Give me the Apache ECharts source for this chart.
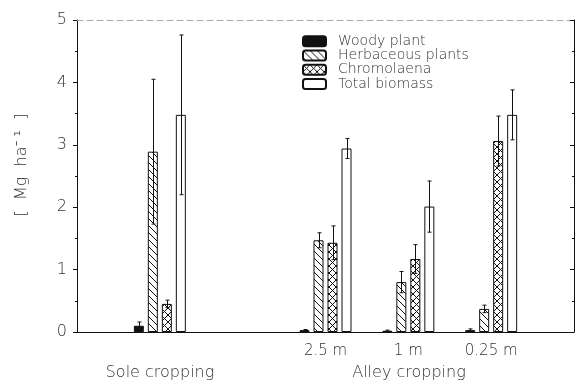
<!DOCTYPE html>
<html><head><meta charset="utf-8">
<script src="https://cdn.jsdelivr.net/npm/echarts@6/dist/echarts.min.js"></script>
<style>html,body{margin:0;padding:0;background:#fff}#c{width:577px;height:381px}</style>
</head><body><div id="c"></div>
<script>
// group positions on the x value axis and their tick labels
const groupPos = [1, 3, 4, 5];
const tickLabels = { 3: '2.5 m', 4: '1 m', 5: '0.25 m' };
const seriesNames = ['Woody plant', 'Herbaceous plants', 'Chromolaena', 'Total biomass'];
const woody = [0.10, 0.03, 0.02, 0.03];
const herbaceous = [2.89, 1.47, 0.80, 0.37];
const chromolaena = [0.45, 1.43, 1.17, 3.06];
const total = [3.48, 2.94, 2.01, 3.48];
const woodyErr = [0.06, 0.01, 0.01, 0.02];
const herbaceousErr = [1.16, 0.12, 0.17, 0.06];
const chromolaenaErr = [0.06, 0.27, 0.23, 0.40];
const totalErr = [1.28, 0.16, 0.41, 0.40];
const groupLabels = [{ text: 'Sole cropping', at: 1 }, { text: 'Alley cropping', at: 4 }];

const values = [woody, herbaceous, chromolaena, total];
const errs = [woodyErr, herbaceousErr, chromolaenaErr, totalErr];

function pattern(kind) {
  const s = 7, c = document.createElement('canvas');
  c.width = s; c.height = s;
  const g = c.getContext('2d');
  g.fillStyle = '#fff'; g.fillRect(0, 0, s, s);
  g.strokeStyle = '#111'; g.lineWidth = 1;
  g.beginPath();
  g.moveTo(-1, -1); g.lineTo(s + 1, s + 1);
  g.moveTo(-1, s - 1); g.lineTo(1, s + 1);
  g.moveTo(s - 1, -1); g.lineTo(s + 1, 1);
  if (kind === 'cross') {
    g.moveTo(-1, s + 1); g.lineTo(s + 1, -1);
    g.moveTo(-1, 1); g.lineTo(1, -1);
    g.moveTo(s - 1, s + 1); g.lineTo(s + 1, s - 1);
  }
  g.stroke();
  return { image: c, repeat: 'repeat' };
}

const fills = ['#111', pattern('hatch'), pattern('cross'), '#fff'];
const FONT = '"DejaVu Sans", sans-serif';
const FW = 200;
const TXT = '#333';
const BW = 10, STEP = 14;

const series = [];
values.forEach((arr, i) => {
  series.push({
    name: seriesNames[i], type: 'bar', barWidth: BW, barGap: '40%',
    itemStyle: { color: fills[i], borderColor: '#111', borderWidth: 1 },
    data: arr.map((v, k) => [groupPos[k], v]),
    z: 2
  });
});
values.forEach((arr, i) => {
  const off = (i - 1.5) * STEP;
  series.push({
    type: 'custom', name: 'err' + i, z: 5, silent: true,
    data: arr.map((v, k) => [groupPos[k], v, errs[i][k]]),
    renderItem: function (params, api) {
      const x = api.value(0), v = api.value(1), e = api.value(2);
      const top = api.coord([x, v + e]);
      const bot = api.coord([x, Math.max(0, v - e)]);
      const cx = Math.round(top[0] + off) + 0.5;
      const st = { stroke: '#111', lineWidth: 1 };
      return { type: 'group', children: [
        { type: 'line', shape: { x1: cx, y1: top[1], x2: cx, y2: bot[1] }, style: st },
        { type: 'line', shape: { x1: cx - 2, y1: top[1], x2: cx + 2, y2: top[1] }, style: st },
        { type: 'line', shape: { x1: cx - 2, y1: bot[1], x2: cx + 2, y2: bot[1] }, style: st }
      ]};
    }
  });
});

const chart = echarts.init(document.getElementById('c'));
chart.setOption({
  animation: false,
  backgroundColor: '#fff',
  grid: { left: 77, right: 2, top: 20, bottom: 49 },
  legend: {
    data: seriesNames, orient: 'vertical', left: 297, top: 29,
    itemWidth: 23, itemHeight: 10, itemGap: 0, selectedMode: false,
    textStyle: { fontFamily: FONT, fontWeight: FW, fontSize: 14, lineHeight: 14.3, color: TXT, padding: [0, 0, 0, 7] }
  },
  graphic: groupLabels.map(g => ({
    type: 'text', silent: true,
    x: 77 + (g.at / 6) * 498, y: 373,
    style: { text: g.text, fontFamily: FONT, fontWeight: FW, fontSize: 16, fill: TXT, align: 'center', verticalAlign: 'middle' }
  })),
  xAxis: [{
    type: 'value', min: 0, max: 6, interval: 1, position: 'bottom',
    axisLine: { show: true, onZero: false, lineStyle: { color: '#111', width: 1 } },
    axisTick: { show: false }, splitLine: { show: false },
    axisLabel: { margin: 12, fontFamily: FONT, fontWeight: FW, fontSize: 15, color: TXT,
      formatter: v => tickLabels[v] || '' }
  }, {
    type: 'value', min: 0, max: 6, position: 'top',
    axisLine: { show: true, onZero: false, lineStyle: { color: '#aaa', width: 1, type: [6, 4] } },
    axisTick: { show: false }, axisLabel: { show: false }, splitLine: { show: false }
  }],
  yAxis: [{
    type: 'value', min: 0, max: 5, interval: 1, position: 'left',
    name: '[  Mg  ha⁻ ¹  ]', nameLocation: 'middle', nameGap: 47, nameRotate: 90,
    nameTextStyle: { fontFamily: FONT, fontWeight: FW, fontSize: 16, color: TXT, padding: [0, 0, 0, 22] },
    axisLine: { show: true, onZero: false, lineStyle: { color: '#111' } },
    axisTick: { show: true, length: 4, lineStyle: { color: '#111' } },
    minorTick: { show: true, splitNumber: 2, length: 2, lineStyle: { color: '#111' } },
    splitLine: { show: false },
    axisLabel: { margin: 10, fontFamily: FONT, fontWeight: FW, fontSize: 16, color: TXT }
  }, {
    type: 'value', min: 0, max: 5, interval: 1, position: 'right',
    axisLine: { show: true, onZero: false, lineStyle: { color: '#111' } },
    axisTick: { show: true, inside: true, length: 4, lineStyle: { color: '#111' } },
    minorTick: { show: true, splitNumber: 2, length: 2, lineStyle: { color: '#111' } },
    splitLine: { show: false }, axisLabel: { show: false }
  }],
  series: series
});
</script></body></html>
